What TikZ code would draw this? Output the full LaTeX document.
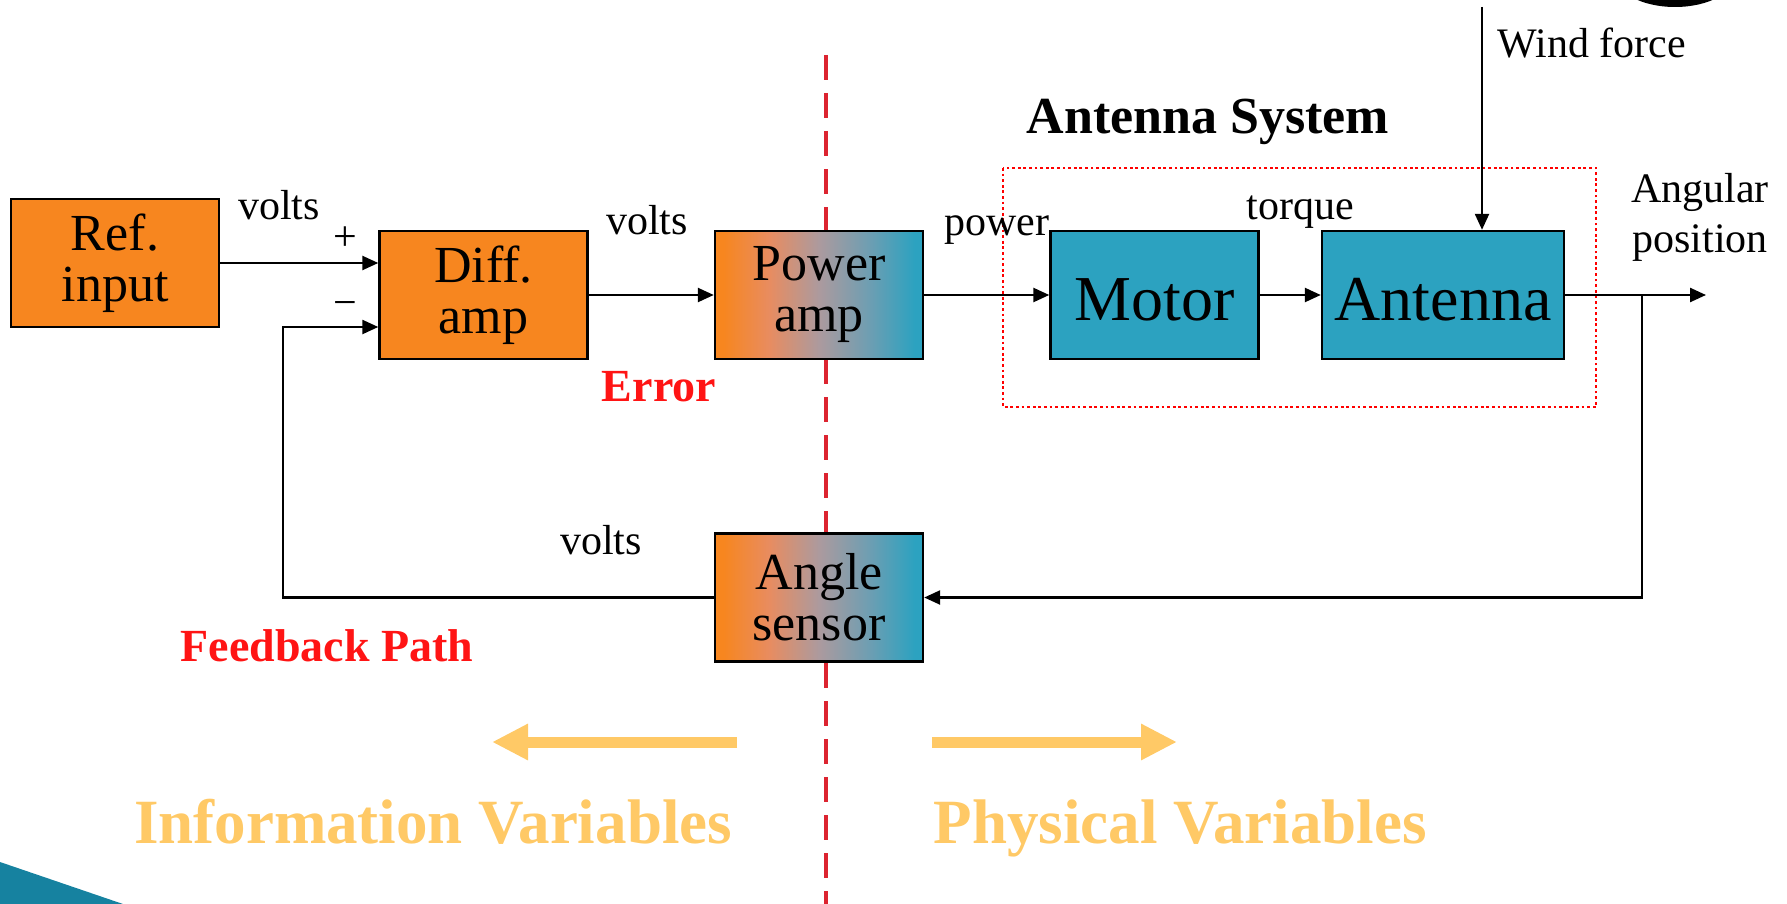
\documentclass[tikz,border=0pt]{standalone}
\usepackage{fontspec}
\setmainfont{Liberation Serif}
\usetikzlibrary{arrows.meta}
\definecolor{orng}{RGB}{247,134,31}
\definecolor{tealc}{RGB}{44,162,192}
\definecolor{midc}{RGB}{172,154,158}
\definecolor{salm}{RGB}{232,140,96}
\definecolor{bluegr}{RGB}{110,158,178}
\definecolor{redl}{RGB}{220,36,48}
\definecolor{redt}{RGB}{255,20,20}
\definecolor{yel}{RGB}{255,201,102}
\definecolor{cornerteal}{RGB}{22,130,160}
\pgfdeclarehorizontalshading{oranteal}{100bp}{color(0bp)=(orng); color(27bp)=(orng); color(38bp)=(salm); color(50bp)=(midc); color(62bp)=(bluegr); color(73bp)=(tealc); color(100bp)=(tealc)}
\tikzset{
  blk/.style={draw=black, line width=1.2pt, minimum width=104pt, minimum height=64pt, inner sep=0pt, align=center, font=\fontsize{26}{25.5}\selectfont},
  orbox/.style={blk, fill=orng},
  tlbox/.style={blk, fill=tealc, font=\fontsize{32}{36}\selectfont},
  grbox/.style={blk, shade, shading=oranteal},
  lbl/.style={font=\fontsize{21}{25}\selectfont, inner sep=0pt, align=center},
  redlbl/.style={font=\fontsize{23}{27}\selectfont\bfseries, text=redt, inner sep=0pt},
  varlbl/.style={font=\fontsize{31.5}{36}\selectfont\bfseries, text=yel, inner sep=0pt, anchor=base},
  conn/.style={line width=1.2pt, -{Triangle[length=8pt,width=7pt]}},
  bigarrow/.style={draw=yel, line width=5.5pt, -{Triangle[length=18pt,width=17pt]}}
}
\begin{document}
\begin{tikzpicture}[x=0.5pt,y=-0.5pt]
\useasboundingbox (0,0) rectangle (1787,904);
\clip (0,0) rectangle (1787,904);
% decorations
\fill[black] (1675,-25) ellipse [x radius=30pt, y radius=16pt];
\fill[cornerteal] (0,862) -- (123,904) -- (0,904) -- cycle;
% dividing line
\draw[redl, line width=2.3pt, dash pattern=on 12.5pt off 6.5pt] (826,55) -- (826,904);
% blocks
\node[orbox] (ref) at (115,263) {Ref.\\input};
\node[orbox] (diff) at (483.5,295) {Diff.\\amp};
\node[grbox] (power) at (819,295) {Power\\amp};
\node[tlbox] (motor) at (1154.5,295) {\rule{0pt}{25.6pt}Motor};
\node[tlbox, minimum width=121pt] (ant) at (1443,295) {\rule{0pt}{25.6pt}Antenna};
\node[grbox] (angle) at (819,597.5) {Angle\\sensor};
% antenna system frame
\draw[red, line width=0.8pt, dash pattern=on 1.4pt off 1.4pt] (1003,168) rectangle (1596,407);
\node[font=\fontsize{26}{30}\selectfont\bfseries, inner sep=0pt] (antsys) at (1208,122) {Antenna System};
% connectors
\draw[conn] (ref.east) -- (diff.west |- ref.east);
\draw[conn] (diff.east) -- (power.west);
\draw[conn] (power.east) -- (motor.west);
\draw[conn] (motor.east) -- (ant.west);
\coordinate (wtop) at (1482,7);
\draw[conn] (wtop) -- (wtop |- ant.north);
\coordinate (outend) at (1706,295);
\draw[conn] (ant.east) -- (outend);
\coordinate (br) at (1642,295);
\draw[conn] (br) |- (angle.east);
\coordinate (fbl) at (283,327);
\draw[conn] (angle.west) -| (fbl) -- (diff.west |- fbl);
% labels
\node[lbl] (v1) at (279,205) {volts};
\node[lbl] (plus) at (345,239) {+};
\node[lbl] (minus) at (345,309) {−};
\node[lbl] (v2) at (647,220) {volts};
\node[lbl] (pw) at (997,230) {power};
\node[lbl] (tq) at (1300,212) {torque};
\node[lbl] (angpos) at (1700,217) {Angular\\position};
\node[lbl] (wind) at (1592,43) {Wind force};
\node[lbl] (v3) at (601,540) {volts};
\node[redlbl] (err) at (659,387) {Error};
\node[redlbl] (fb) at (327,646) {Feedback Path};
% variable arrows
\coordinate (la1) at (737,742); \coordinate (la2) at (492,742);
\coordinate (ra1) at (932,742); \coordinate (ra2) at (1177,742);
\draw[bigarrow] (la1) -- (la2);
\draw[bigarrow] (ra1) -- (ra2);
\node[varlbl] (info) at (433,843) {Information Variables};
\node[varlbl] (phys) at (1180,843) {Physical Variables};
\end{tikzpicture}
\end{document}
